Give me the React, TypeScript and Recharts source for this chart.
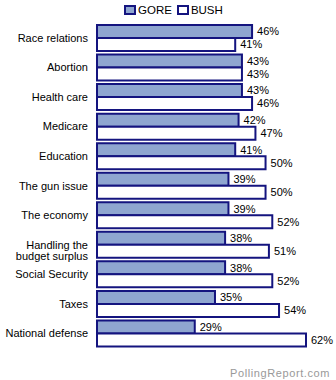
import { BarChart, Bar, XAxis, YAxis, LabelList } from 'recharts'

const issues = [
  'Race relations',
  'Abortion',
  'Health care',
  'Medicare',
  'Education',
  'The gun issue',
  'The economy',
  'Handling the\nbudget surplus',
  'Social Security',
  'Taxes',
  'National defense',
]
const gore = [46, 43, 43, 42, 41, 39, 39, 38, 38, 35, 29]
const bush = [41, 43, 46, 47, 50, 50, 52, 51, 52, 54, 62]

const data = issues.map((issue, i) => ({ issue, gore: gore[i], bush: bush[i] }))

const FONT = 'Arial, "Liberation Sans", sans-serif'
const NAVY = '#14147f'
const GORE_FILL = '#8fa6d0'

function IssueTick({ x, y, payload }: any) {
  const lines = String(payload.value).split('\n')
  return (
    <text x={x} y={y} textAnchor="end" fontFamily={FONT} fontSize={11} fill="#000">
      {lines.map((l, i) => (
        <tspan key={i} x={x} dy={i === 0 ? 4 : 11}>{l}</tspan>
      ))}
    </text>
  )
}

function TopLegend() {
  const item = (label: string, fill: string) => (
    <span style={{ display: 'inline-flex', alignItems: 'center', marginRight: 5 }}>
      <span style={{ width: 8, height: 6, border: `2px solid ${NAVY}`, background: fill, marginRight: 2 }} />
      <span>{label}</span>
    </span>
  )
  return (
    <div style={{ position: 'absolute', left: 124, top: 4, fontFamily: FONT, fontSize: 11.5, color: '#000', lineHeight: '12px' }}>
      {item('GORE', GORE_FILL)}
      {item('BUSH', '#fff')}
    </div>
  )
}

const labelStyle = { fontFamily: FONT, fontSize: 11, fill: '#000' }

export default function App() {
  return (
    <div style={{ position: 'absolute', left: 0, top: 0, width: 336, height: 380, background: '#fff' }}>
      <BarChart
        width={336}
        height={380}
        data={data}
        layout="vertical"
        margin={{ top: 23, right: 30, bottom: 32, left: 0 }}
        barSize={13}
        barGap={0}
      >
        <XAxis type="number" domain={[0, 62]} hide />
        <YAxis
          type="category"
          dataKey="issue"
          width={97}
          axisLine={false}
          tickLine={false}
          tickMargin={3}
          tick={<IssueTick />}
          interval={0}
        />
        <Bar dataKey="gore" fill={GORE_FILL} stroke={NAVY} strokeWidth={2} isAnimationActive={false}>
          <LabelList dataKey="gore" position="right" offset={5} formatter={(v: any) => `${v}%`} style={labelStyle} />
        </Bar>
        <Bar dataKey="bush" fill="#fff" stroke={NAVY} strokeWidth={2} isAnimationActive={false}>
          <LabelList dataKey="bush" position="right" offset={5} formatter={(v: any) => `${v}%`} style={labelStyle} />
        </Bar>
      </BarChart>
      <TopLegend />
      <div
        style={{
          position: 'absolute',
          left: 230,
          top: 367,
          fontFamily: FONT,
          fontSize: 11,
          letterSpacing: 0.6,
          color: '#999',
        }}
      >
        PollingReport.com
      </div>
    </div>
  )
}
